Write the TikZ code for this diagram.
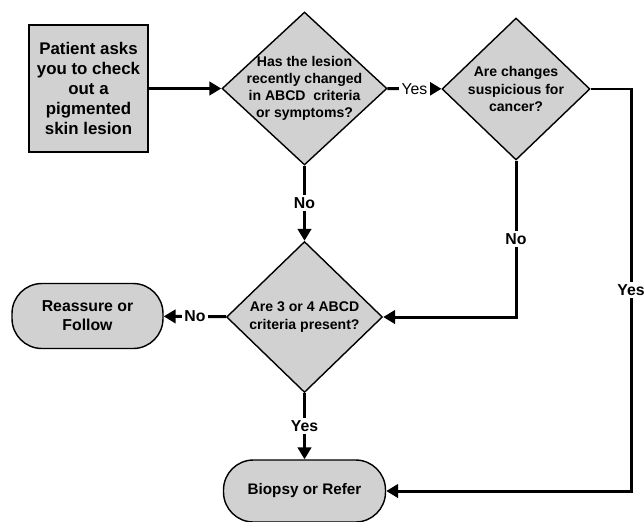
\documentclass[tikz,border=0pt]{standalone}
\usepackage{fontspec}
\setmainfont{Liberation Sans}
\usepackage{tikz}
\usetikzlibrary{shapes.geometric,arrows.meta}

\begin{document}
\begin{tikzpicture}[x=0.02cm, y=-0.02cm,
    chartbox/.style={draw, line width=0.8pt, fill=black!18, inner sep=0pt, align=center, font=\bfseries},
    startbox/.style={chartbox, minimum width=2.38cm, minimum height=2.54cm, font=\bfseries\fontsize{9.6}{11.3}\selectfont},
    decision/.style={chartbox, diamond},
    endbox/.style={chartbox, rounded corners=17pt, font=\bfseries\fontsize{9}{10.8}\selectfont},
    question/.style={align=center, inner sep=0pt, font=\bfseries\fontsize{8}{9.8}\selectfont},
    answer/.style={fill=white, inner sep=1.5pt, font=\bfseries\fontsize{9}{10}\selectfont},
    flow/.style={line width=1.7pt, -{Triangle[length=6.8pt,width=7.6pt]}}]
  \useasboundingbox (0,0) rectangle (644,521);

  \node[startbox] (patient) at (88.5,88.5) {Patient asks\\you to check\\out a\\pigmented\\skin lesion};
  \node[decision, minimum width=3.30cm, minimum height=3.06cm,
        label={[question]center:Has the lesion\\recently changed\\in ABCD~ criteria\\or symptoms?}] (changed) at (304.5,88.5) {};
  \node[decision, minimum width=2.96cm, minimum height=2.84cm,
        label={[question]center:Are changes\\suspicious for\\cancer?}] (suspicious) at (516,89) {};
  \node[decision, minimum width=3.12cm, minimum height=3.02cm,
        label={[question]center:Are 3 or 4 ABCD\\criteria present?}] (criteria) at (304.5,317) {};
  \node[endbox, minimum width=3.02cm, minimum height=1.30cm] (reassure) at (87.5,316) {Reassure or\\Follow};
  \node[endbox, minimum width=3.24cm, minimum height=1.24cm, font=\bfseries\fontsize{8.7}{10}\selectfont] (biopsy) at (304.5,491) {Biopsy or Refer};
  \coordinate (turn) at (631,89);

  \path[flow]
    (patient) edge (changed)
    (changed) edge node[answer, font=\fontsize{9}{10}\selectfont]{Yes} (suspicious)
              edge node[answer]{No} (criteria)
    (criteria) edge node[answer]{No} (reassure)
               edge node[answer]{Yes} (biopsy);
  \draw[flow] (suspicious) |- node[answer, pos=0.25]{No} (criteria);
  \draw[flow] (suspicious) -- (turn) |- node[answer, pos=0.25]{Yes} (biopsy);
\end{tikzpicture}
\end{document}
